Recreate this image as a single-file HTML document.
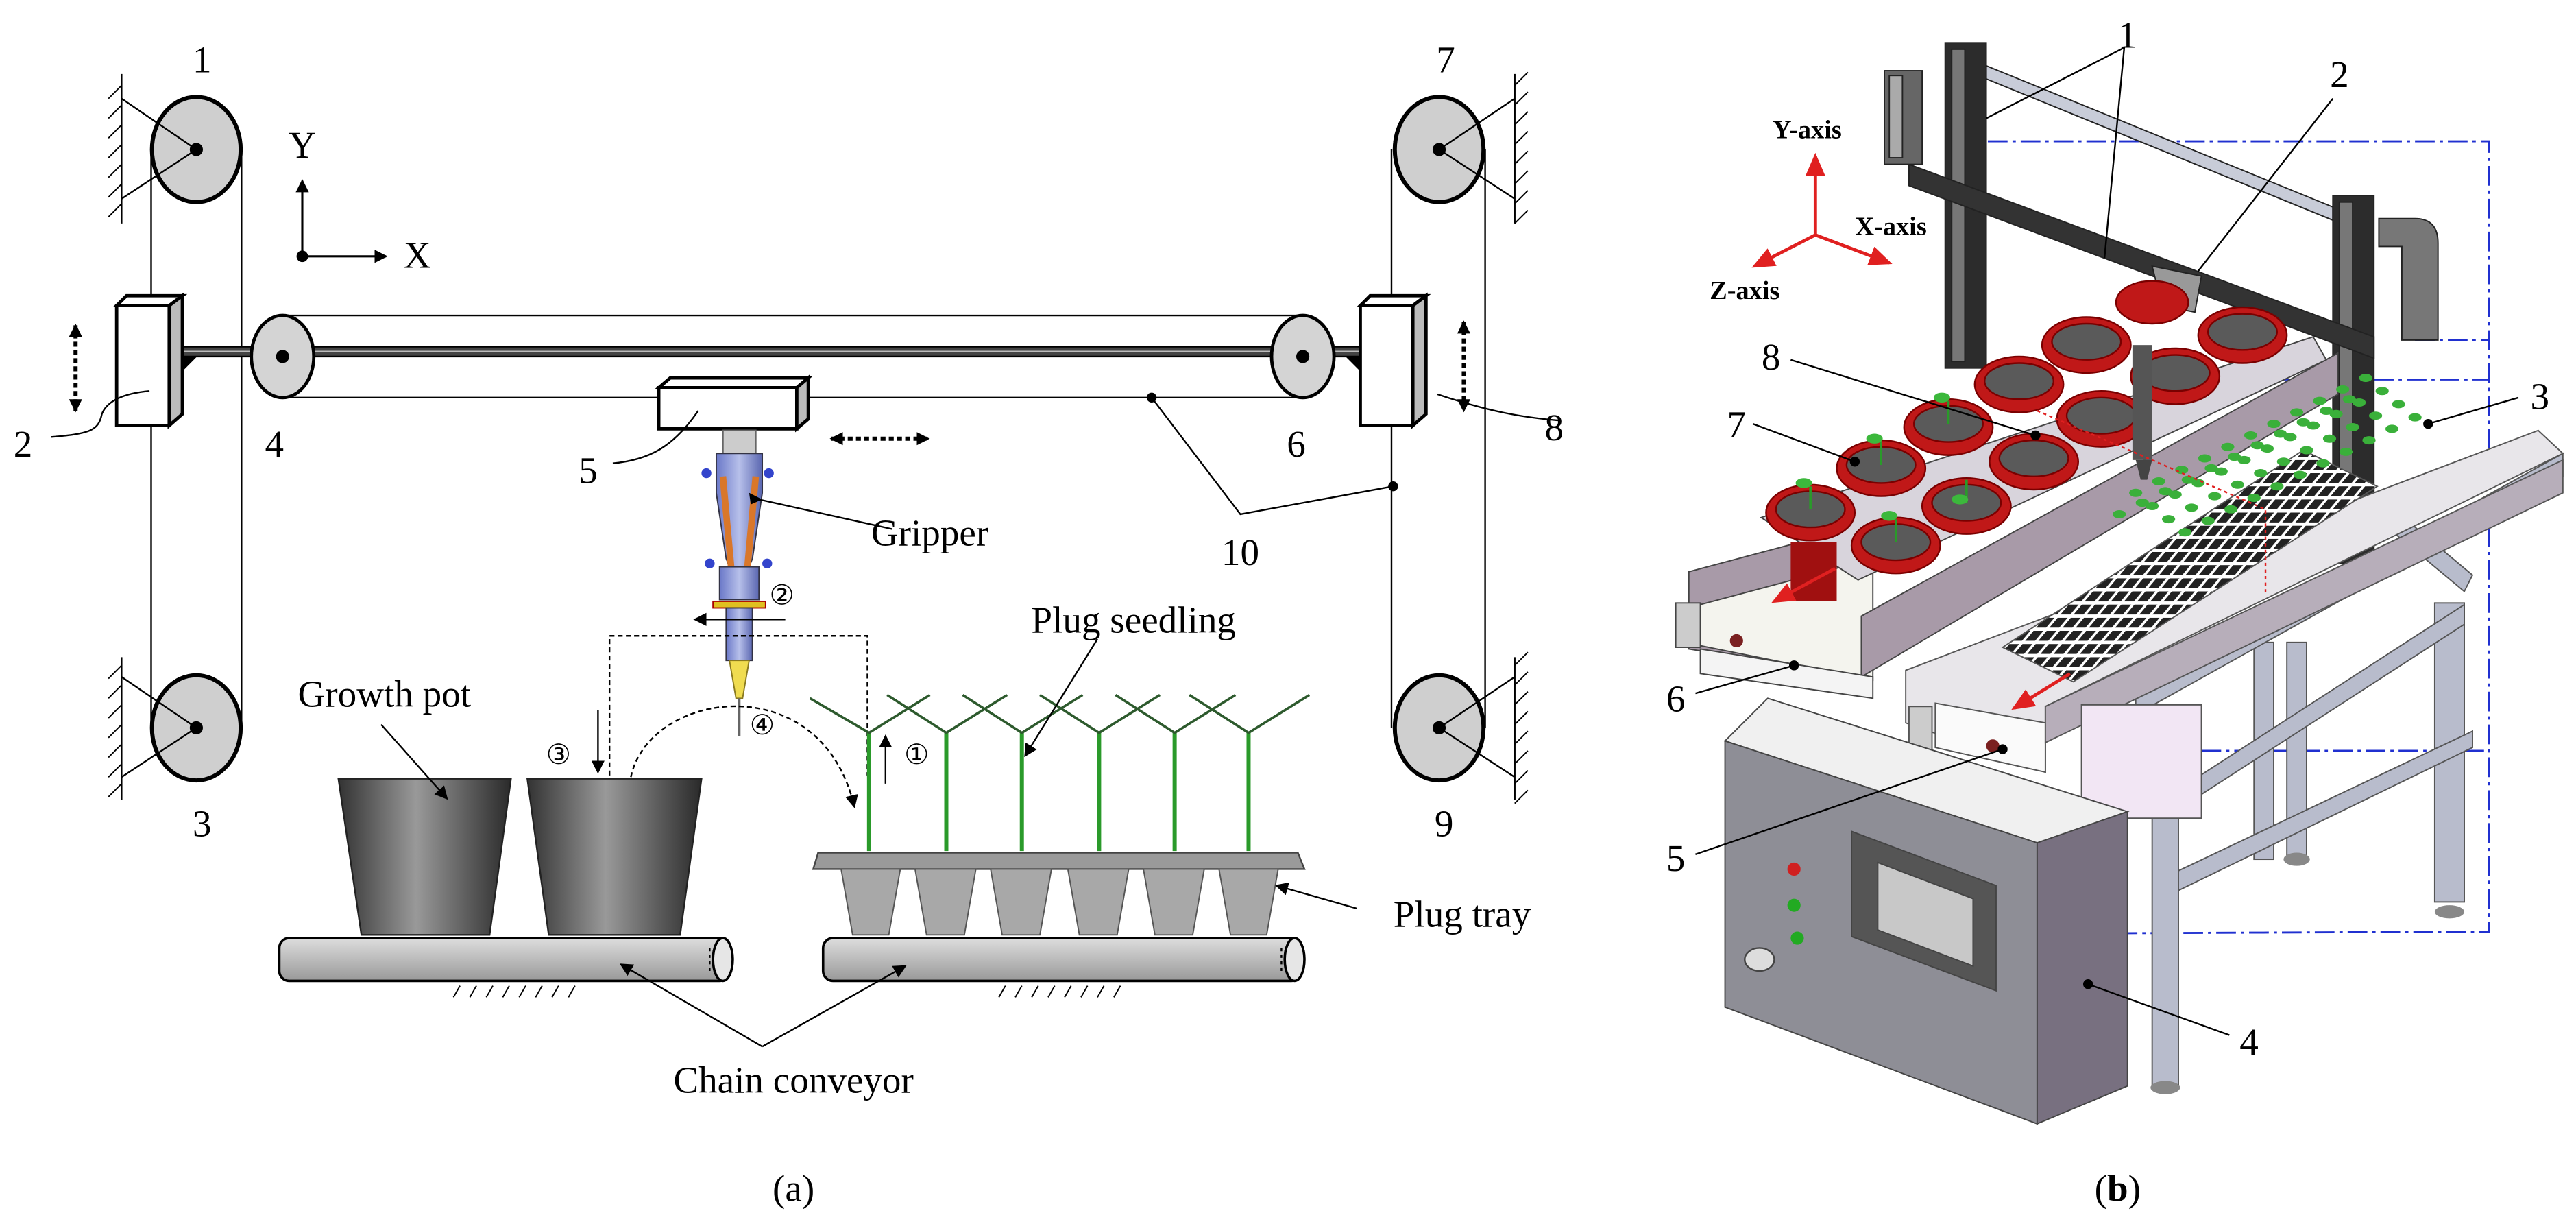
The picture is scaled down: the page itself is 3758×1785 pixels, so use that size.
<!DOCTYPE html>
<html><head><meta charset="utf-8"><style>
html,body{margin:0;padding:0;background:#fff;}
svg{display:block;}
text{font-family:"Liberation Serif",serif;fill:#000;}
</style></head><body>
<svg width="3758" height="1785" viewBox="0 0 1568 745" preserveAspectRatio="none" xmlns="http://www.w3.org/2000/svg">
<defs>
<linearGradient id="pot" x1="0" x2="1" y1="0" y2="0">
<stop offset="0" stop-color="#333"/><stop offset="0.45" stop-color="#999"/><stop offset="1" stop-color="#2a2a2a"/>
</linearGradient>
<linearGradient id="cyl" x1="0" x2="0" y1="0" y2="1">
<stop offset="0" stop-color="#ddd"/><stop offset="0.5" stop-color="#bbb"/><stop offset="1" stop-color="#999"/>
</linearGradient>
<linearGradient id="grip" x1="0" x2="1">
<stop offset="0" stop-color="#6a78c8"/><stop offset="0.5" stop-color="#b7c0ea"/><stop offset="1" stop-color="#5a66b0"/>
</linearGradient>
<marker id="ah" markerWidth="8" markerHeight="8" refX="7" refY="4" orient="auto-start-reverse" markerUnits="userSpaceOnUse"><path d="M0,0 L8,4 L0,8 z" fill="#000"/></marker>
<marker id="ahr" markerWidth="14" markerHeight="12" refX="12" refY="6" orient="auto" markerUnits="userSpaceOnUse"><path d="M0,0 L14,6 L0,12 z" fill="#e02020"/></marker>
<pattern id="grid" width="8" height="8" patternUnits="userSpaceOnUse" patternTransform="skewX(-40)">
<rect width="8" height="8" fill="#fff"/><rect width="6" height="6" fill="#222"/>
</pattern>
</defs>

<!-- ================= PANEL (a) ================= -->
<g stroke="#000" fill="none" stroke-width="1">
<line x1="74" y1="45" x2="74" y2="136"/>
<line x1="74" y1="400" x2="74" y2="487"/>
<line x1="922" y1="45" x2="922" y2="136"/>
<line x1="922" y1="400" x2="922" y2="487"/>
<g stroke-width="0.8">
<path d="M74,52 l-8,8 M74,64 l-8,8 M74,76 l-8,8 M74,88 l-8,8 M74,100 l-8,8 M74,112 l-8,8 M74,124 l-8,8"/>
<path d="M74,405 l-8,8 M74,417 l-8,8 M74,429 l-8,8 M74,441 l-8,8 M74,453 l-8,8 M74,465 l-8,8 M74,477 l-8,8"/>
<path d="M922,52 l8,-8 M922,64 l8,-8 M922,76 l8,-8 M922,88 l8,-8 M922,100 l8,-8 M922,112 l8,-8 M922,124 l8,-8 M922,136 l8,-8"/>
<path d="M922,405 l8,-8 M922,417 l8,-8 M922,429 l8,-8 M922,441 l8,-8 M922,453 l8,-8 M922,465 l8,-8 M922,477 l8,-8 M922,489 l8,-8"/>
</g>
<line x1="92" y1="91" x2="92" y2="443"/><line x1="147" y1="91" x2="147" y2="443"/>
<line x1="847" y1="91" x2="847" y2="443"/><line x1="904" y1="91" x2="904" y2="443"/>
</g>
<g stroke="#000" stroke-width="2.5" fill="#cfcfcf">
<ellipse cx="119.5" cy="91" rx="27" ry="32"/>
<ellipse cx="119.5" cy="443" rx="27" ry="32"/>
<ellipse cx="876" cy="91" rx="27" ry="32"/>
<ellipse cx="876" cy="443" rx="27" ry="32"/>
</g>
<g stroke="#000" stroke-width="1" fill="none">
<path d="M74,60 L119.5,91 L74,121 M74,412 L119.5,443 L74,473 M922,60 L876,91 L922,121 M922,412 L876,443 L922,473"/>
</g>
<g fill="#000"><circle cx="119.5" cy="91" r="4"/><circle cx="119.5" cy="443" r="4"/><circle cx="876" cy="91" r="4"/><circle cx="876" cy="443" r="4"/></g>

<line x1="172" y1="192" x2="793" y2="192" stroke="#000" stroke-width="1"/>
<line x1="172" y1="242" x2="793" y2="242" stroke="#000" stroke-width="1"/>
<rect x="111" y="211" width="718" height="6" fill="#444" stroke="#000" stroke-width="1"/>
<line x1="111" y1="214" x2="829" y2="214" stroke="#bbb" stroke-width="1"/>
<polygon points="111,217 120,217 111,226" fill="#000"/>
<polygon points="828,217 819,217 828,226" fill="#000"/>
<g stroke="#000" stroke-width="2" fill="#d4d4d4">
<ellipse cx="172" cy="217" rx="19" ry="25"/>
<ellipse cx="793" cy="217" rx="19" ry="25"/>
</g>
<circle cx="172" cy="217" r="4" fill="#000"/><circle cx="793" cy="217" r="4" fill="#000"/>

<g stroke="#000" stroke-width="2" fill="#fff">
<path d="M71,186 L103,186 L103,259 L71,259 Z"/>
<path d="M71,186 L77,180 L111,180 L103,186 Z"/>
<path d="M103,186 L111,180 L111,252 L103,259 Z" fill="#bbb"/>
<path d="M828,186 L860,186 L860,259 L828,259 Z"/>
<path d="M828,186 L834,180 L868,180 L860,186 Z"/>
<path d="M860,186 L868,180 L868,252 L860,259 Z" fill="#bbb"/>
<path d="M401,236 L485,236 L485,261 L401,261 Z"/>
<path d="M401,236 L408,230 L492,230 L485,236 Z"/>
<path d="M485,236 L492,230 L492,255 L485,261 Z" fill="#bbb"/>
</g>
<g stroke="#000" stroke-width="2.5" stroke-dasharray="3,2" marker-end="url(#ah)" marker-start="url(#ah)">
<line x1="46" y1="198" x2="46" y2="250"/>
<line x1="891" y1="196" x2="891" y2="250"/>
<line x1="506" y1="267" x2="565" y2="267"/>
</g>
<g>
<rect x="440" y="262" width="20" height="14" fill="#ccc" stroke="#666"/>
<path d="M436,276 L464,276 L464,300 L458,340 L454,350 L446,350 L442,340 L436,300 Z" fill="url(#grip)" stroke="#334" stroke-width="0.8"/>
<path d="M440,290 L445,345 M460,290 L455,345" stroke="#d9772a" stroke-width="4"/>
<rect x="438" y="345" width="24" height="20" fill="url(#grip)" stroke="#334" stroke-width="0.8"/>
<rect x="434" y="366" width="32" height="4" fill="#e0c020" stroke="#a00" stroke-width="0.8"/>
<rect x="442" y="370" width="16" height="32" fill="url(#grip)" stroke="#334" stroke-width="0.8"/>
<path d="M444,402 L456,402 L452,425 L448,425 Z" fill="#f0dc50" stroke="#8a7a20" stroke-width="0.8"/>
<line x1="450" y1="425" x2="450" y2="448" stroke="#666" stroke-width="1.5"/>
<g fill="#3344cc"><circle cx="430" cy="288" r="3"/><circle cx="468" cy="288" r="3"/><circle cx="432" cy="343" r="3"/><circle cx="467" cy="343" r="3"/></g>
</g>
<g stroke="#000" stroke-width="1" fill="none">
<path d="M31,266 C55,264 60,262 62,252 C66,242 80,239 91,238"/>
<path d="M373,282 C395,280 410,272 425,250"/>
<path d="M950,256 C925,254 905,250 875,240"/>
<polyline points="701,242 755,313 848,296"/>
<line x1="462" y1="304" x2="543" y2="322"/>
</g>
<circle cx="701" cy="242" r="3" fill="#000"/><circle cx="848" cy="296" r="3" fill="#000"/>
<polygon points="456,300 464,304 457,307" fill="#000"/>

<circle cx="184" cy="156" r="3.5" fill="#000"/>
<line x1="184" y1="156" x2="184" y2="110" stroke="#000" stroke-width="1.3" marker-end="url(#ah)"/>
<line x1="184" y1="156" x2="235" y2="156" stroke="#000" stroke-width="1.3" marker-end="url(#ah)"/>

<g stroke="#000" stroke-width="1" fill="none" stroke-dasharray="3,2">
<polyline points="371,472 371,387 528,387 528,472"/>
<path d="M384,473 C395,420 500,405 520,491" marker-end="url(#ah)"/>
</g>
<line x1="478" y1="377" x2="423" y2="377" stroke="#000" stroke-width="1" marker-end="url(#ah)"/>
<line x1="364" y1="432" x2="364" y2="470" stroke="#000" stroke-width="1" marker-end="url(#ah)"/>
<line x1="539" y1="477" x2="539" y2="448" stroke="#000" stroke-width="1" marker-end="url(#ah)"/>

<polygon points="206,474 311,474 298,569 220,569" fill="url(#pot)" stroke="#222"/>
<polygon points="321,474 427,474 414,569 334,569" fill="url(#pot)" stroke="#222"/>
<g stroke="#000" stroke-width="1.5">
<rect x="170" y="571" width="274" height="26" rx="6" fill="url(#cyl)"/>
<ellipse cx="440" cy="584" rx="6" ry="13" fill="#e6e6e6"/>
<rect x="501" y="571" width="291" height="26" rx="6" fill="url(#cyl)"/>
<ellipse cx="788" cy="584" rx="6" ry="13" fill="#e6e6e6"/>
</g>
<g stroke="#000" stroke-width="1" stroke-dasharray="2,2"><line x1="432" y1="577" x2="432" y2="592"/><line x1="780" y1="577" x2="780" y2="592"/></g>
<g stroke="#000" stroke-width="0.8">
<path d="M280,600 l-4,7 M290,600 l-4,7 M300,600 l-4,7 M310,600 l-4,7 M320,600 l-4,7 M330,600 l-4,7 M340,600 l-4,7 M350,600 l-4,7"/>
<path d="M612,600 l-4,7 M622,600 l-4,7 M632,600 l-4,7 M642,600 l-4,7 M652,600 l-4,7 M662,600 l-4,7 M672,600 l-4,7 M682,600 l-4,7"/>
</g>
<polygon points="498,519 790,519 794,529 495,529" fill="#9a9a9a" stroke="#444"/>
<g fill="#a8a8a8" stroke="#555" stroke-width="0.8">
<polygon points="512,529 548,529 541,569 519,569"/>
<polygon points="557,529 594,529 587,569 564,569"/>
<polygon points="603,529 640,529 633,569 610,569"/>
<polygon points="650,529 687,529 680,569 657,569"/>
<polygon points="696,529 733,529 726,569 703,569"/>
<polygon points="742,529 778,529 771,569 749,569"/>
</g>
<g stroke="#1f7a1f" stroke-width="2.5" fill="none">
<path d="M529,446 V518 M576,446 V518 M622,446 V518 M669,446 V518 M715,446 V518 M760,446 V518" stroke="#2a9a2a"/>
<g stroke="#2d5a2d" stroke-width="1.5">
<path d="M493,425 L529,446 L566,423 M540,423 L576,446 L613,423 M586,423 L622,446 L659,423 M633,423 L669,446 L706,423 M679,423 L715,446 L752,423 M724,423 L760,446 L797,423"/>
</g>
</g>
<g stroke="#000" stroke-width="1" marker-end="url(#ah)">
<line x1="232" y1="441" x2="272" y2="486"/>
<line x1="668" y1="389" x2="624" y2="460"/>
<line x1="826" y1="553" x2="777" y2="539"/>
<line x1="464" y1="637" x2="378" y2="587"/>
<line x1="464" y1="637" x2="551" y2="588"/>
</g>

<g font-size="23">
<text x="123" y="44" text-anchor="middle">1</text>
<text x="123" y="509" text-anchor="middle">3</text>
<text x="880" y="44" text-anchor="middle">7</text>
<text x="879" y="509" text-anchor="middle">9</text>
<text x="14" y="278" text-anchor="middle">2</text>
<text x="167" y="278" text-anchor="middle">4</text>
<text x="358" y="294" text-anchor="middle">5</text>
<text x="789" y="278" text-anchor="middle">6</text>
<text x="946" y="268" text-anchor="middle">8</text>
<text x="755" y="344" text-anchor="middle">10</text>
<text x="184" y="96" text-anchor="middle">Y</text>
<text x="254" y="163" text-anchor="middle">X</text>
<text x="566" y="332" text-anchor="middle">Gripper</text>
<text x="234" y="430" text-anchor="middle">Growth pot</text>
<text x="690" y="385" text-anchor="middle">Plug seedling</text>
<text x="890" y="564" text-anchor="middle">Plug tray</text>
<text x="483" y="665" text-anchor="middle">Chain conveyor</text>
<text x="483" y="731" text-anchor="middle">(a)</text>
</g>
<g font-size="17" font-family="'DejaVu Sans',sans-serif">
<text x="476" y="368" text-anchor="middle">②</text>
<text x="340" y="465" text-anchor="middle">③</text>
<text x="464" y="447" text-anchor="middle">④</text>
<text x="558" y="465" text-anchor="middle">①</text>
</g>

<!-- ================= PANEL (b) ================= -->
<g stroke="#2030d0" stroke-width="1.2" fill="none" stroke-dasharray="12,3,2,3">
<polyline points="1190,86 1515,86 1515,567 1295,568"/>
<line x1="1470" y1="207" x2="1515" y2="207"/>
<line x1="1305" y1="231" x2="1515" y2="231"/>
<line x1="1340" y1="457" x2="1515" y2="457"/>
</g>
<g fill="#b8bccc" stroke="#555" stroke-width="0.8">
<rect x="1310" y="496" width="16" height="167"/>
<rect x="1482" y="367" width="18" height="182"/>
<rect x="1372" y="391" width="12" height="132"/>
<rect x="1392" y="391" width="12" height="132"/>
<polygon points="1326,530 1505,445 1505,455 1326,542"/>
<polygon points="1330,478 1500,368 1500,380 1330,490"/>
<polygon points="1300,420 1560,276 1560,290 1300,435"/>
<polygon points="1445,300 1505,350 1500,360 1440,310"/>
</g>
<g fill="#888"><ellipse cx="1318" cy="662" rx="9" ry="4"/><ellipse cx="1491" cy="555" rx="9" ry="4"/><ellipse cx="1398" cy="523" rx="8" ry="4"/></g>

<g stroke="#222" stroke-width="0.8">
<polygon points="1209,40 1420,126 1420,134 1209,48" fill="#c8ccd8"/>
<rect x="1184" y="26" width="25" height="198" fill="#2c2c2c"/>
<rect x="1188" y="30" width="8" height="190" fill="#777"/>
<rect x="1420" y="119" width="25" height="224" fill="#2c2c2c"/>
<rect x="1424" y="123" width="8" height="216" fill="#777"/>
<polygon points="1162,100 1445,205 1445,218 1162,113" fill="#333"/>
<rect x="1147" y="43" width="23" height="57" fill="#666"/>
<rect x="1150" y="46" width="8" height="50" fill="#aaa"/>
<path d="M1448,133 L1470,133 Q1484,133 1484,148 L1484,207 L1462,207 L1462,150 L1448,150 Z" fill="#777"/>
<polygon points="1310,162 1340,168 1336,190 1316,186" fill="#999"/>
</g>

<g stroke="#444" stroke-width="0.8">
<polygon points="1028,348 1133,320 1133,412 1028,395" fill="#a89aa8"/>
<polygon points="1035,368 1140,340 1140,414 1035,393" fill="#f4f4ee"/>
<polygon points="1133,375 1423,215 1423,240 1133,412" fill="#a89aa8"/>
<polygon points="1072,315 1408,205 1416,219 1131,353" fill="#d8d4dc"/>
<rect x="1020" y="367" width="15" height="27" fill="#ccc"/>
<polygon points="1035,395 1140,412 1140,425 1035,410" fill="#f4f4f4"/>
</g>
<g stroke="#7a0000" stroke-width="1">
<ellipse cx="1310" cy="184" rx="22" ry="13" fill="#c01818"/>
<ellipse cx="1365" cy="204" rx="27" ry="17" fill="#c01818"/><ellipse cx="1365" cy="202" rx="21" ry="11" fill="#5a5a5a"/>
<ellipse cx="1270" cy="210" rx="27" ry="17" fill="#c01818"/><ellipse cx="1270" cy="208" rx="21" ry="11" fill="#5a5a5a"/>
<ellipse cx="1324" cy="229" rx="27" ry="17" fill="#c01818"/><ellipse cx="1324" cy="227" rx="21" ry="11" fill="#5a5a5a"/>
<ellipse cx="1229" cy="234" rx="27" ry="17" fill="#c01818"/><ellipse cx="1229" cy="232" rx="21" ry="11" fill="#5a5a5a"/>
<ellipse cx="1279" cy="255" rx="27" ry="17" fill="#c01818"/><ellipse cx="1279" cy="253" rx="21" ry="11" fill="#5a5a5a"/>
<ellipse cx="1186" cy="260" rx="27" ry="17" fill="#c01818"/><ellipse cx="1186" cy="258" rx="21" ry="11" fill="#5a5a5a"/>
<ellipse cx="1238" cy="281" rx="27" ry="17" fill="#c01818"/><ellipse cx="1238" cy="279" rx="21" ry="11" fill="#5a5a5a"/>
<ellipse cx="1145" cy="285" rx="27" ry="17" fill="#c01818"/><ellipse cx="1145" cy="283" rx="21" ry="11" fill="#5a5a5a"/>
<ellipse cx="1197" cy="308" rx="27" ry="17" fill="#c01818"/><ellipse cx="1197" cy="306" rx="21" ry="11" fill="#5a5a5a"/>
<ellipse cx="1102" cy="312" rx="27" ry="17" fill="#c01818"/><ellipse cx="1102" cy="310" rx="21" ry="11" fill="#5a5a5a"/>
<ellipse cx="1154" cy="332" rx="27" ry="17" fill="#c01818"/><ellipse cx="1154" cy="330" rx="21" ry="11" fill="#5a5a5a"/>
</g>
<rect x="1090" y="330" width="28" height="36" fill="#a01010"/>
<g stroke="#2a9a2a" stroke-width="1.5"><path d="M1102,310 v-14 M1145,283 v-14 M1186,258 v-14 M1154,330 v-14 M1197,306 v-14"/></g>
<g fill="#3cb83c"><ellipse cx="1098" cy="294" rx="5" ry="3"/><ellipse cx="1141" cy="267" rx="5" ry="3"/><ellipse cx="1182" cy="242" rx="5" ry="3"/><ellipse cx="1150" cy="314" rx="5" ry="3"/><ellipse cx="1193" cy="304" rx="5" ry="3"/></g>
<rect x="1298" y="210" width="12" height="70" fill="#555"/>
<polygon points="1300,280 1310,280 1307,292 1303,292" fill="#444"/>

<g stroke="#555" stroke-width="0.8">
<polygon points="1160,408 1545,262 1560,276 1245,430 1245,470 1160,440" fill="#e8e6ea"/>
<polygon points="1178,428 1245,440 1245,470 1178,455" fill="#fafafa"/>
<polygon points="1219,394 1262,415 1447,296 1402,274" fill="url(#grid)"/>
<polygon points="1245,430 1560,280 1560,300 1245,452" fill="#b7aeba"/>
<rect x="1267" y="429" width="73" height="69" fill="#f2e6f4"/>
<rect x="1162" y="430" width="14" height="30" fill="#ccc"/>
</g>
<g fill="#3ab03a">
<g id="row"><ellipse cx="1320" cy="316" rx="4" ry="2.5"/><ellipse cx="1334" cy="309" rx="4" ry="2.5"/><ellipse cx="1348" cy="302" rx="4" ry="2.5"/><ellipse cx="1362" cy="295" rx="4" ry="2.5"/><ellipse cx="1376" cy="288" rx="4" ry="2.5"/><ellipse cx="1390" cy="281" rx="4" ry="2.5"/><ellipse cx="1404" cy="274" rx="4" ry="2.5"/><ellipse cx="1418" cy="267" rx="4" ry="2.5"/><ellipse cx="1432" cy="260" rx="4" ry="2.5"/><ellipse cx="1446" cy="253" rx="4" ry="2.5"/><ellipse cx="1460" cy="246" rx="4" ry="2.5"/></g>
<use href="#row" transform="translate(-10,-8)"/>
<use href="#row" transform="translate(-20,-16)"/>
<use href="#row" transform="translate(10,8)"/>
<use href="#row" transform="translate(-30,-3)"/>
</g>
<g stroke="#e02020" stroke-width="1" fill="none" stroke-dasharray="2,2">
<polyline points="1240,250 1303,277 1379,310 1379,362"/>
</g>

<g stroke="#444" stroke-width="0.8">
<polygon points="1050,451 1076,425 1295,494 1240,513" fill="#f0f0f0"/>
<polygon points="1050,451 1240,513 1240,684 1050,613" fill="#8e8e96"/>
<polygon points="1240,513 1295,494 1295,661 1240,684" fill="#787080"/>
<polygon points="1127,506 1215,539 1215,603 1127,570" fill="#555"/>
<polygon points="1143,525 1201,547 1201,588 1143,566" fill="#c8c8c8"/>
</g>
<circle cx="1092" cy="529" r="4" fill="#d02020"/>
<circle cx="1092" cy="551" r="4" fill="#22aa22"/>
<circle cx="1094" cy="571" r="4" fill="#22aa22"/>
<ellipse cx="1071" cy="584" rx="9" ry="7" fill="#ddd" stroke="#444"/>
<circle cx="1057" cy="390" r="4" fill="#7a2020"/>
<circle cx="1213" cy="454" r="4" fill="#7a2020"/>

<g stroke="#e02020" stroke-width="2">
<line x1="1105" y1="143" x2="1105" y2="95" marker-end="url(#ahr)"/>
<line x1="1105" y1="143" x2="1150" y2="160" marker-end="url(#ahr)"/>
<line x1="1105" y1="143" x2="1068" y2="162" marker-end="url(#ahr)"/>
<line x1="1117" y1="346" x2="1080" y2="366" marker-end="url(#ahr)"/>
<line x1="1260" y1="410" x2="1226" y2="431" marker-end="url(#ahr)"/>
</g>

<g stroke="#000" stroke-width="1" fill="none">
<polyline points="1209,72 1293,29 1281,157"/>
<line x1="1420" y1="60" x2="1338" y2="165"/>
<line x1="1533" y1="242" x2="1478" y2="258"/>
<line x1="1357" y1="630" x2="1271" y2="599"/>
<line x1="1032" y1="520" x2="1219" y2="456"/>
<line x1="1032" y1="422" x2="1092" y2="405"/>
<line x1="1067" y1="258" x2="1129" y2="281"/>
<line x1="1090" y1="219" x2="1239" y2="265"/>
</g>
<g fill="#000"><circle cx="1271" cy="599" r="3"/><circle cx="1219" cy="456" r="3"/><circle cx="1092" cy="405" r="3"/><circle cx="1129" cy="281" r="3"/><circle cx="1239" cy="265" r="3"/><circle cx="1478" cy="258" r="3"/></g>

<g font-size="23">
<text x="1295" y="29" text-anchor="middle">1</text>
<text x="1424" y="53" text-anchor="middle">2</text>
<text x="1546" y="249" text-anchor="middle">3</text>
<text x="1369" y="642" text-anchor="middle">4</text>
<text x="1020" y="530" text-anchor="middle">5</text>
<text x="1020" y="433" text-anchor="middle">6</text>
<text x="1057" y="266" text-anchor="middle">7</text>
<text x="1078" y="225" text-anchor="middle">8</text>
<text x="1289" y="731" text-anchor="middle">(<tspan font-weight="bold">b</tspan>)</text>
</g>
<g font-size="16" font-weight="bold">
<text x="1100" y="84" text-anchor="middle">Y-axis</text>
<text x="1151" y="143" text-anchor="middle">X-axis</text>
<text x="1062" y="182" text-anchor="middle">Z-axis</text>
</g>
</svg>
</body></html>
